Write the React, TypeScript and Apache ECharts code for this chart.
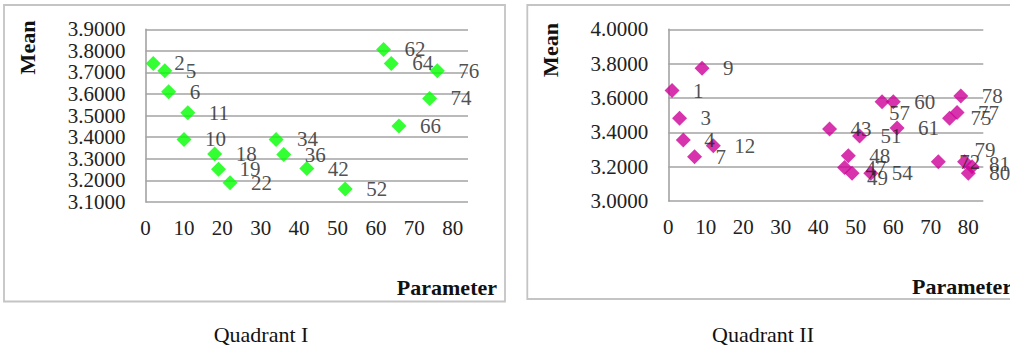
import React, { useEffect, useRef } from "react";
import * as echarts from "echarts";

// Quadrant I (green)
const q1Ids = [2, 5, 6, 10, 11, 18, 19, 22, 34, 36, 42, 52, 62, 64, 66, 74, 76];
const q1X = [2, 5, 6, 10, 11, 18, 19, 22, 34, 36, 42, 52, 62, 64, 66, 74, 76];
const q1Mean = [3.742, 3.708, 3.611, 3.39, 3.514, 3.322, 3.252, 3.189, 3.39, 3.32, 3.255, 3.16, 3.807, 3.742, 3.452, 3.58, 3.708];

// Quadrant II (magenta)
const q2Ids = [1, 3, 4, 7, 9, 12, 43, 47, 48, 49, 51, 54, 57, 60, 61, 72, 75, 77, 78, 79, 80, 81];
const q2X = [1, 3, 4, 7, 9, 12, 43, 47, 48, 49, 51, 54, 57, 60, 61, 72, 75, 77, 78, 79, 80, 81];
const q2Mean = [3.643, 3.482, 3.355, 3.258, 3.773, 3.322, 3.419, 3.195, 3.264, 3.161, 3.379, 3.161, 3.578, 3.578, 3.425, 3.229, 3.482, 3.515, 3.612, 3.229, 3.161, 3.2];

const xTicks = [0, 10, 20, 30, 40, 50, 60, 70, 80];
const captions = ["Quadrant I", "Quadrant II"];
const yTitle = "Mean";
const xTitle = "Parameter";

// label nudges (style only)
const labelShift: Record<string, number[]> = {
  "q2-57": [-14, 11],
  "q2-79": [-11, -12],
  "q2-49": [-6, 5],
  "q2-81": [-4, -3],
};

const FONT = "'Times New Roman', 'Liberation Serif', serif";

export default function App() {
  const ref = useRef<HTMLDivElement>(null);
  useEffect(() => {
    if (!ref.current) return;
    const chart = echarts.init(ref.current, null, { renderer: "svg" });

    const mk = (prefix: string, ids: number[], xs: number[], ys: number[]) =>
      ids.map((id, i) => {
        const item: any = { value: [xs[i], ys[i]], name: String(id) };
        const s = labelShift[prefix + "-" + id];
        if (s) item.label = { offset: s };
        return item;
      });

    const gridLine = { show: true, lineStyle: { color: "#a3a3a3", width: 1.6 } };
    const tickLabel = { color: "#222", fontFamily: FONT, fontSize: 21 };

    const xAxisBase = (gi: number) => ({
      type: "value",
      gridIndex: gi,
      min: 0,
      max: 84,
      interval: 10,
      axisLine: { show: false },
      axisTick: { show: false },
      splitLine: { show: false },
      axisLabel: {
        ...tickLabel,
        margin: 15,
        formatter: (v: number) => (xTicks.indexOf(v) >= 0 ? String(v) : ""),
      },
    });

    const yAxisBase = (gi: number, min: number, max: number, interval: number) => ({
      type: "value",
      gridIndex: gi,
      min,
      max,
      interval,
      axisLine: { show: true, lineStyle: { color: "#a3a3a3", width: 1.6 } },
      axisTick: { show: false },
      splitLine: gridLine,
      axisLabel: { ...tickLabel, margin: 20, formatter: (v: number) => v.toFixed(4) },
    });

    const labelCfg = {
      show: true,
      position: "right",
      distance: 13.5,
      formatter: (p: any) => p.name,
      color: "#222",
      fontFamily: FONT,
      fontSize: 21,
    };

    chart.setOption({
      animation: false,
      backgroundColor: "#ffffff",
      grid: [
        { left: 145.6, top: 29.3, width: 322.4, height: 172.7 },
        { left: 668.3, top: 29.3, width: 315, height: 171.7 },
      ],
      xAxis: [xAxisBase(0), xAxisBase(1)],
      yAxis: [yAxisBase(0, 3.1, 3.9, 0.1), yAxisBase(1, 3.0, 4.0, 0.2)],
      series: [
        {
          type: "scatter",
          xAxisIndex: 0,
          yAxisIndex: 0,
          symbol: "diamond",
          symbolSize: 15,
          itemStyle: { color: "#00ff00" },
          label: labelCfg,
          data: mk("q1", q1Ids, q1X, q1Mean),
        },
        {
          type: "scatter",
          xAxisIndex: 1,
          yAxisIndex: 1,
          symbol: "diamond",
          symbolSize: 15,
          itemStyle: { color: "#cc0099" },
          label: labelCfg,
          data: mk("q2", q2Ids, q2X, q2Mean),
        },
      ],
      graphic: [
        {
          type: "rect",
          z: -10,
          shape: { x: 4, y: 5, width: 501, height: 296.5 },
          style: { fill: "none", stroke: "#c4c4c4", lineWidth: 1.8 },
        },
        {
          type: "rect",
          z: -10,
          shape: { x: 527.3, y: 5, width: 500, height: 294 },
          style: { fill: "none", stroke: "#c4c4c4", lineWidth: 1.8 },
        },
        {
          type: "text",
          x: 27,
          y: 47.5,
          rotation: Math.PI / 2,
          style: {
            text: yTitle,
            font: `bold 22px ${FONT}`,
            fill: "#111",
            textAlign: "center",
            textVerticalAlign: "middle",
          },
        },
        {
          type: "text",
          x: 550,
          y: 50,
          rotation: Math.PI / 2,
          style: {
            text: yTitle,
            font: `bold 22px ${FONT}`,
            fill: "#111",
            textAlign: "center",
            textVerticalAlign: "middle",
          },
        },
        {
          type: "text",
          x: 497,
          y: 287,
          style: {
            text: xTitle,
            font: `bold 22px ${FONT}`,
            fill: "#111",
            textAlign: "right",
            textVerticalAlign: "middle",
          },
        },
        {
          type: "text",
          x: 912,
          y: 286,
          style: {
            text: xTitle,
            font: `bold 22px ${FONT}`,
            fill: "#111",
            textAlign: "left",
            textVerticalAlign: "middle",
          },
        },
        {
          type: "text",
          x: 261,
          y: 334,
          style: {
            text: captions[0],
            font: `22px ${FONT}`,
            fill: "#111",
            textAlign: "center",
            textVerticalAlign: "middle",
          },
        },
        {
          type: "text",
          x: 763,
          y: 334,
          style: {
            text: captions[1],
            font: `22px ${FONT}`,
            fill: "#111",
            textAlign: "center",
            textVerticalAlign: "middle",
          },
        },
      ],
    });
    return () => chart.dispose();
  }, []);
  return (
    <div
      ref={ref}
      style={{ position: "fixed", left: 0, top: 0, width: 1010, height: 350 }}
    />
  );
}
